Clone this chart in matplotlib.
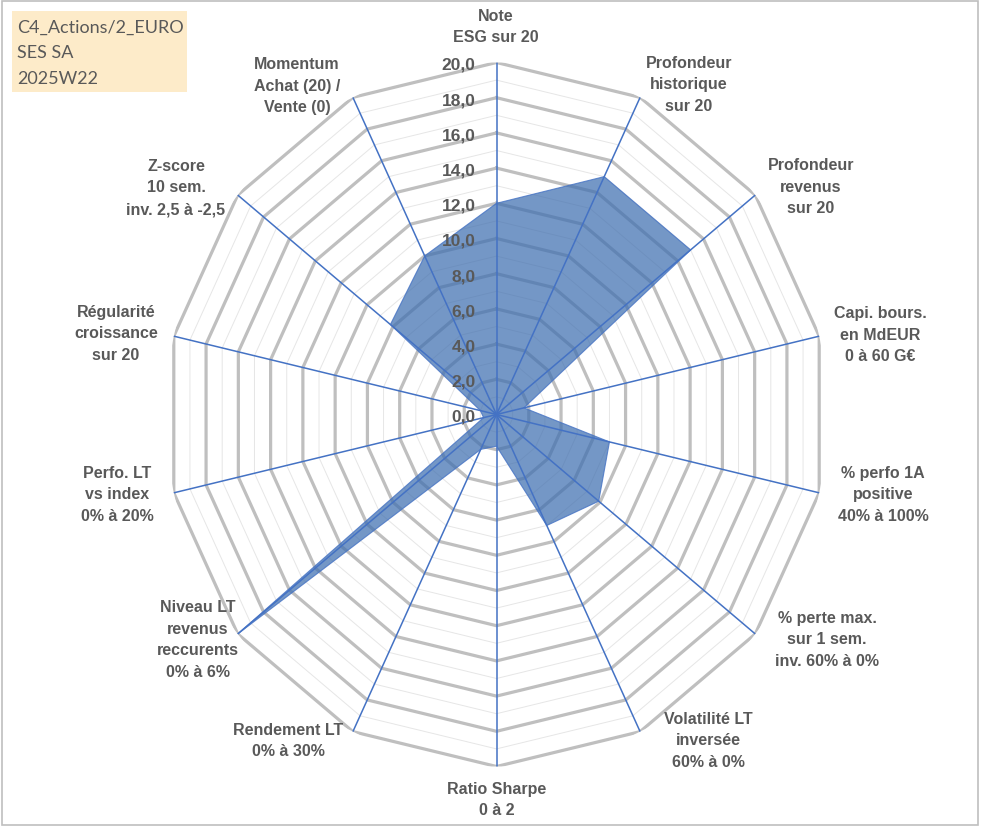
import numpy as np
import matplotlib
matplotlib.use("Agg")
import matplotlib.pyplot as plt
from matplotlib.patches import Rectangle
from matplotlib.transforms import offset_copy

# ---------------- data ----------------
categories = [
    "Note\nESG sur 20",
    "Profondeur\nhistorique\nsur 20",
    "Profondeur\nrevenus\nsur 20",
    "Capi. bours.\nen MdEUR\n0 à 60 G€",
    "% perfo 1A\npositive\n40% à 100%",
    "% perte max.\nsur 1 sem.\ninv. 60% à 0%",
    "Volatilité LT\ninversée\n60% à 0%",
    "Ratio Sharpe\n0 à 2",
    "Rendement LT\n0% à 30%",
    "Niveau LT\nrevenus\nreccurents\n0% à 6%",
    "Perfo. LT\nvs index\n0% à 20%",
    "Régularité\ncroissance\nsur 20",
    "Z-score\n10 sem.\ninv. 2,5 à -2,5",
    "Momentum\nAchat (20) /\nVente (0)",
]
values = [12.0, 15.0, 15.0, 1.7, 7.0, 7.9, 7.0, 1.8, 2.2, 20.0, 0.8, 1.0, 8.2, 10.0]
tick_values = [0, 2, 4, 6, 8, 10, 12, 14, 16, 18, 20]
tick_labels = ["0,0", "2,0", "4,0", "6,0", "8,0", "10,0", "12,0", "14,0", "16,0", "18,0", "20,0"]
info_lines = ["C4_Actions/2_EURO", "SES SA", "2025W22"]

# ---------------- layout (pixels) ----------------
W, H = 991, 829
label_pos = [(496, 27), (689, 85), (811, 187), (880, 335), (883, 495), (827, 640),
             (708, 741), (497, 800), (288, 741), (198, 640), (117, 495), (116, 334),
             (176, 188), (297, 86)]

def fx(x):
    return x / W

def fy(y):
    return 1 - y / H

GRAY_TXT = "#595959"
BLUE = "#4472C4"

fig = plt.figure(figsize=(W / 100, H / 100), dpi=100)
fig.patch.set_facecolor("white")

cx, cy, rx, ry = 496.5, 415.5, 331, 352
ax = fig.add_axes([fx(cx - rx), fy(cy + ry), 2 * rx / W, 2 * ry / H], projection="polar")
ax.set_aspect("auto")
ax.set_theta_zero_location("N")
ax.set_theta_direction(-1)
ax.set_ylim(0, 20)
ax.grid(False)
ax.set_xticks([])
ax.set_yticks([])
ax.spines["polar"].set_visible(False)
ax.patch.set_alpha(0)

n = len(categories)
theta = np.arange(n) * 2 * np.pi / n
theta_c = np.append(theta, theta[0])

# minor rings
for r in range(1, 21, 2):
    ax.plot(theta_c, [r] * (n + 1), color="#E6E6E6", lw=0.7, zorder=1)
# major rings
for r in tick_values[1:]:
    ax.plot(theta_c, [r] * (n + 1), color="#BFBFBF", lw=2.3, zorder=2,
            solid_joinstyle="miter")

# data polygon
vals_c = np.append(values, values[0])
ax.fill(theta_c, vals_c, facecolor="#3F6FB0", alpha=0.72, zorder=3, lw=0)
ax.plot(theta_c, vals_c, color=BLUE, lw=0.8, alpha=0.8, zorder=4)

# spokes
for t in theta:
    ax.plot([t, t], [0, 20], color=BLUE, lw=1.1, zorder=5)

# tick labels along top spoke
trans = offset_copy(ax.transData, fig=fig, x=-21, y=-2, units="dots")
for v, lab in zip(tick_values, tick_labels):
    ax.text(0, v, lab, transform=trans, ha="right", va="center", fontsize=12.5,
            fontweight="bold", color=GRAY_TXT, family="Liberation Sans", zorder=6)

# category labels
for lab, (x, y) in zip(categories, label_pos):
    fig.text(fx(x), fy(y), lab, ha="center", va="center", ma="center", fontsize=11.5,
             fontweight="bold", color=GRAY_TXT, family="Liberation Sans", linespacing=1.55)

# info box
fig.patches.append(Rectangle((fx(12), fy(93)), (187 - 12) / W, (93 - 12) / H,
                             transform=fig.transFigure, facecolor="#FDEBC9",
                             edgecolor="none", zorder=0))
for i, line in enumerate(info_lines):
    fig.text(fx(17), fy(28 + 25.5 * i), line, ha="left", va="center", fontsize=13,
             color=GRAY_TXT, family="Lato")

# outer frame
fig.patches.append(Rectangle((fx(2), fy(826)), (978 - 2) / W, (826 - 2) / H,
                             transform=fig.transFigure, facecolor="none",
                             edgecolor="#BFBFBF", lw=1.2, zorder=0))

fig.savefig("out.png", dpi=100, facecolor="white")
